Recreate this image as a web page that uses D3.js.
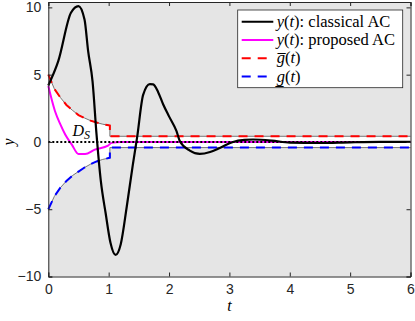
<!DOCTYPE html>
<html>
<head>
<meta charset="utf-8">
<script src="https://cdn.jsdelivr.net/npm/d3@7/dist/d3.min.js"></script>
<style>
  body { margin: 0; background: #fff; }
  svg { display: block; }
</style>
</head>
<body>
<div id="chart"></div>
<script>
// classical AC response y(t)
var classicT = [0, 0.165, 0.375, 0.5, 0.6, 0.66, 0.733, 0.8, 0.87, 0.95, 1.03, 1.115, 1.2, 1.3, 1.4, 1.47, 1.571, 1.682, 1.737, 1.82, 1.902, 2.0, 2.124, 2.18, 2.344, 2.51, 2.68, 2.84, 3.06, 3.25, 3.39, 3.7, 4.0, 4.5, 5.0, 5.5, 6.0];
var classicV = [4.2, 6.0, 9.6, 10.1, 9.1, 6.75, 4.5, 0.5, -2.9, -5.3, -7.5, -8.4, -7.6, -4.8, -1.7, 0.3, 3.5, 4.3, 4.28, 3.7, 2.8, 1.9, 0.8, 0.05, -0.64, -0.89, -0.75, -0.45, 0.0, 0.15, 0.18, 0.1, -0.05, -0.08, -0.03, 0.0, 0.0];

// proposed AC response y(t)
var proposedT = [0, 0.11, 0.2, 0.28, 0.39, 0.5, 0.61, 0.77, 0.99, 1.05, 1.2, 6.0];
var proposedV = [4.15, 2.3, 1.3, 0.55, -0.2, -0.9, -0.9, -0.57, -0.27, -0.07, 0.0, 0.0];

// bounds g upper / g lower (same time grid)
var boundT = [0, 0.1, 0.2, 0.3, 0.4, 0.5, 0.6, 0.7, 0.8, 0.9, 1.0, 1.02, 1.02, 6.0];
var upperV = [5.0, 3.95, 3.3, 2.75, 2.35, 2.0, 1.78, 1.58, 1.44, 1.32, 1.24, 1.22, 0.42, 0.42];
var lowerV = [-5.0, -4.05, -3.4, -2.9, -2.5, -2.2, -1.9, -1.65, -1.45, -1.3, -1.2, -1.18, -0.42, -0.42];

var xTicks = [0, 1, 2, 3, 4, 5, 6];
var yTicks = [-10, -5, 0, 5, 10];

var legendLabels = [
  [["y", 1], ["(", 0], ["t", 1], ["): classical AC", 0]],
  [["y", 1], ["(", 0], ["t", 1], ["): proposed AC", 0]],
  [["g\u0305", 1], ["(", 0], ["t", 1], [")", 0]],
  [["g\u0332", 1], ["(", 0], ["t", 1], [")", 0]]
];
var legendColors = ["#000000", "#ff00ff", "#ff0000", "#0000ff"];
var legendDash = [null, null, "9,7", "9,7"];

var svgWidth = 415, svgHeight = 321;
var axLeft = 48.3, axRight = 410.5, axTop = 2, axBottom = 276.5;

var svg = d3.select("#chart").append("svg")
  .attr("width", svgWidth)
  .attr("height", svgHeight);

var x = d3.scaleLinear().domain([0, 6]).range([axLeft, axRight]);
var y = d3.scaleLinear().domain([-10, 10.4]).range([axBottom, axTop]);

// grey background of the axes
svg.append("rect")
  .attr("x", axLeft).attr("y", axTop)
  .attr("width", axRight - axLeft).attr("height", axBottom - axTop)
  .attr("fill", "#e5e5e5");

var plot = svg.append("g");

var boundData = boundT.map(function(t, i) { return { t: t, u: upperV[i], l: lowerV[i] }; });

// white feasible band between the bounds
plot.append("path")
  .datum(boundData)
  .attr("fill", "#ffffff")
  .attr("d", d3.area().x(d => x(d.t)).y0(d => y(d.l)).y1(d => y(d.u)));

// thin edges of the band
["u", "l"].forEach(function(k) {
  plot.append("path")
    .datum(boundData)
    .attr("fill", "none")
    .attr("stroke", "#555555")
    .attr("stroke-width", 0.8)
    .attr("d", d3.line().x(d => x(d.t)).y(d => y(d[k])));
});

// dashed bounds
plot.append("path")
  .datum(boundData)
  .attr("fill", "none")
  .attr("stroke", "#ff0000")
  .attr("stroke-width", 2)
  .attr("stroke-dasharray", "9,7")
  .attr("d", d3.line().x(d => x(d.t)).y(d => y(d.u)));

plot.append("path")
  .datum(boundData)
  .attr("fill", "none")
  .attr("stroke", "#0000ff")
  .attr("stroke-width", 2)
  .attr("stroke-dasharray", "9,7")
  .attr("d", d3.line().x(d => x(d.t)).y(d => y(d.l)));

// proposed AC
plot.append("path")
  .datum(proposedT.map((t, i) => [t, proposedV[i]]))
  .attr("fill", "none")
  .attr("stroke", "#ff00ff")
  .attr("stroke-width", 2)
  .attr("d", d3.line().x(d => x(d[0])).y(d => y(d[1])).curve(d3.curveMonotoneX));

// classical AC
plot.append("path")
  .datum(classicT.map((t, i) => [t, classicV[i]]))
  .attr("fill", "none")
  .attr("stroke", "#000000")
  .attr("stroke-width", 2.2)
  .attr("d", d3.line().x(d => x(d[0])).y(d => y(d[1])).curve(d3.curveMonotoneX));

// dotted zero line
plot.append("line")
  .attr("x1", x(0)).attr("x2", x(6))
  .attr("y1", y(0)).attr("y2", y(0))
  .attr("stroke", "#000")
  .attr("stroke-width", 2)
  .attr("stroke-dasharray", "2,2");

// D_S annotation
var ds = svg.append("text")
  .attr("x", x(0.4)).attr("y", y(0.42))
  .attr("font-family", "Liberation Serif, serif")
  .attr("font-size", 16)
  .attr("font-style", "italic")
  .attr("fill", "#000");
ds.append("tspan").text("D");
ds.append("tspan").attr("dy", 3).attr("font-size", 12).text("S");

// axes
var axisColor = "#262626";
var fontSans = "Liberation Sans, Arial, sans-serif";

var bottomAxis = svg.append("g")
  .attr("transform", "translate(0," + axBottom + ")")
  .call(d3.axisBottom(x).tickValues(xTicks).tickSize(-4).tickPadding(8).tickFormat(d3.format("d")));
var topAxis = svg.append("g")
  .attr("transform", "translate(0," + axTop + ")")
  .call(d3.axisTop(x).tickValues(xTicks).tickSize(-4).tickFormat(""));
var leftAxis = svg.append("g")
  .attr("transform", "translate(" + axLeft + ",0)")
  .call(d3.axisLeft(y).tickValues(yTicks).tickSize(-4).tickPadding(7).tickFormat(d3.format("d")));
var rightAxis = svg.append("g")
  .attr("transform", "translate(" + axRight + ",0)")
  .call(d3.axisRight(y).tickValues(yTicks).tickSize(-4).tickFormat(""));

[bottomAxis, topAxis, leftAxis, rightAxis].forEach(function(a) {
  a.select(".domain").attr("stroke", axisColor).attr("stroke-width", 1);
  a.selectAll(".tick line").attr("stroke", axisColor);
  a.selectAll(".tick text")
    .attr("fill", axisColor)
    .attr("font-family", fontSans)
    .attr("font-size", 14);
});

// axis labels
svg.append("text")
  .attr("x", x(3)).attr("y", 311)
  .attr("text-anchor", "middle")
  .attr("font-family", "Liberation Serif, serif")
  .attr("font-style", "italic")
  .attr("font-size", 16)
  .text("t");

svg.append("text")
  .attr("transform", "translate(14," + y(0) + ") rotate(-90)")
  .attr("text-anchor", "middle")
  .attr("font-family", "Liberation Serif, serif")
  .attr("font-style", "italic")
  .attr("font-size", 16)
  .text("y");

// legend
var legend = svg.append("g");
legend.append("rect")
  .attr("x", 237.7).attr("y", 10)
  .attr("width", 165).attr("height", 77.7)
  .attr("fill", "#fff")
  .attr("stroke", axisColor)
  .attr("stroke-width", 0.8);

legendLabels.forEach(function(parts, i) {
  var cy = 21.7 + i * 18.3;
  legend.append("line")
    .attr("x1", 241.7).attr("x2", 273.3)
    .attr("y1", cy).attr("y2", cy)
    .attr("stroke", legendColors[i])
    .attr("stroke-width", 2)
    .attr("stroke-dasharray", legendDash[i]);
  var txt = legend.append("text")
    .attr("x", 276.7).attr("y", cy + 5)
    .attr("font-family", "Liberation Serif, serif")
    .attr("font-size", 16.5)
    .attr("fill", "#000");
  parts.forEach(function(p) {
    txt.append("tspan").attr("font-style", p[1] ? "italic" : "normal").text(p[0]);
  });
});
</script>
</body>
</html>
